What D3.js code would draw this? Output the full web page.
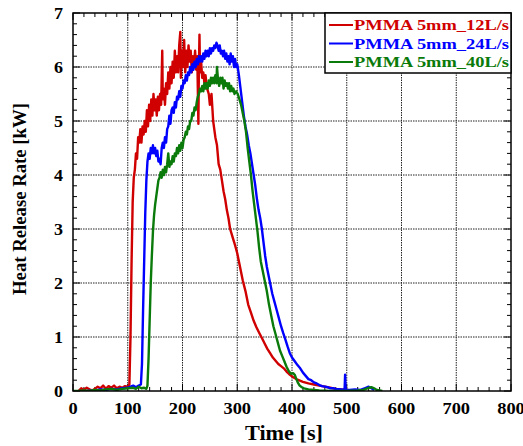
<html>
<head>
    <meta charset="utf-8">
    <title>Heat Release Rate</title>
    <style>
        body { margin: 0; background: #fff; }
        text { font-family: "Liberation Serif", "Times New Roman", serif; font-weight: bold; }
    </style>
</head>
<body>
    <script src="https://cdn.jsdelivr.net/npm/d3@7/dist/d3.min.js"></script>
    <script>
        var width = 523, height = 446;
        var margin = { left: 73, top: 13, right: 12, bottom: 55 };

        // series: [time (s), HRR (kW)]
        var names = ["PMMA 5mm_12L/s", "PMMA 5mm_24L/s", "PMMA 5mm_40L/s"];
        var colors = ["#d00000", "#0000ff", "#0a7a0a"];
        var xTicks = [0, 100, 200, 300, 400, 500, 600, 700, 800];
        var yTicks = [0, 1, 2, 3, 4, 5, 6, 7];

        var red12 = [[10,0.0],[15,0.05],[20,0.02],[25,0.06],[30,0.03],[35,0.01],[40,0.04],[45,0.08],[50,0.05],[55,0.1],[60,0.04],[65,0.09],[70,0.06],[75,0.1],[80,0.05],[85,0.08],[90,0.06],[95,0.09],[100,0.08],[103,0.12],[105,1.0],[107,2.4],[109,3.5],[111,3.95],[113,4.1],[115,4.4],[117,4.3],[119,4.7],[121,4.6],[123,4.85],[125,4.6],[127,4.9],[129,4.75],[131,5.0],[133,4.8],[135,5.2],[137,4.9],[139,5.3],[141,5.0],[143,5.4],[145,5.1],[147,5.5],[149,5.2],[151,5.4],[153,5.1],[155,5.45],[157,5.2],[159,5.5],[161,5.3],[163,6.3],[164,5.4],[166,5.6],[168,5.3],[170,5.7],[172,5.5],[174,5.9],[176,5.6],[178,6.0],[180,5.7],[182,6.1],[184,5.8],[186,6.3],[188,5.9],[190,6.2],[192,5.9],[194,6.4],[196,6.65],[197,5.8],[199,6.3],[201,6.0],[203,6.5],[205,5.9],[207,6.3],[209,6.0],[211,6.4],[213,6.1],[215,6.3],[217,5.9],[219,6.2],[221,6.0],[223,6.3],[225,5.95],[227,6.2],[229,4.95],[230,6.0],[231,6.6],[232,5.9],[234,6.1],[236,5.8],[238,5.9],[240,5.7],[242,5.85],[245,5.6],[248,5.5],[250,5.3],[253,5.5],[256,5.0],[260,4.7],[263,4.55],[266,4.2],[269,4.1],[272,3.9],[275,3.7],[278,3.55],[281,3.35],[284,3.2],[287,3.0],[290,2.9],[293,2.8],[296,2.7],[300,2.55],[305,2.3],[310,2.05],[315,1.85],[320,1.6],[325,1.45],[330,1.3],[335,1.18],[340,1.08],[345,0.98],[350,0.88],[355,0.78],[360,0.7],[365,0.62],[370,0.56],[375,0.5],[380,0.46],[385,0.42],[390,0.36],[395,0.31],[400,0.27],[410,0.21],[420,0.17],[430,0.14],[440,0.12],[450,0.1],[460,0.08],[470,0.06],[480,0.04],[490,0.03],[500,0.02],[510,0.01]];

        var blue24 = [[25,0.0],[40,0.01],[50,0.03],[60,0.02],[70,0.04],[80,0.03],[90,0.05],[100,0.06],[105,0.08],[110,0.1],[115,0.07],[120,0.1],[124,0.12],[126,0.5],[128,1.5],[130,2.4],[132,3.3],[134,3.9],[136,4.25],[138,4.4],[140,4.3],[142,4.5],[144,4.4],[146,4.55],[148,4.4],[150,4.5],[152,4.35],[154,4.45],[156,4.25],[158,4.3],[160,4.2],[162,4.5],[164,4.6],[166,4.5],[168,4.7],[170,4.6],[172,4.85],[174,4.9],[176,5.1],[178,4.95],[180,5.2],[182,5.25],[184,5.15],[186,5.35],[188,5.25],[190,5.45],[192,5.4],[194,5.55],[196,5.45],[198,5.65],[200,5.6],[202,5.75],[204,5.7],[206,5.85],[208,5.75],[210,5.9],[212,5.85],[214,6.0],[216,5.9],[218,6.05],[220,5.95],[222,6.1],[224,6.0],[226,6.15],[228,6.05],[230,6.2],[232,6.1],[234,6.2],[236,6.1],[238,6.25],[240,6.15],[242,6.3],[244,6.2],[246,6.3],[248,6.2],[250,6.35],[252,6.25],[254,6.35],[256,6.3],[258,6.4],[260,6.35],[262,6.45],[264,6.4],[266,6.3],[268,6.4],[270,6.25],[272,6.3],[274,6.2],[276,6.3],[278,6.15],[280,6.25],[282,6.1],[284,6.2],[286,6.05],[288,6.25],[290,6.1],[292,6.2],[294,6.0],[296,6.15],[298,6.0],[300,6.05],[303,5.85],[306,5.6],[309,5.35],[312,5.1],[315,4.9],[318,4.75],[321,4.55],[324,4.4],[327,4.2],[330,4.0],[333,3.8],[336,3.55],[339,3.35],[342,3.2],[345,3.0],[348,2.75],[351,2.5],[354,2.3],[357,2.15],[360,2.0],[364,1.8],[368,1.65],[372,1.5],[376,1.35],[380,1.2],[384,1.07],[388,0.95],[392,0.82],[396,0.7],[400,0.62],[405,0.55],[410,0.48],[415,0.42],[420,0.34],[425,0.28],[430,0.22],[435,0.2],[440,0.16],[445,0.14],[450,0.11],[455,0.09],[460,0.08],[465,0.07],[470,0.05],[475,0.05],[480,0.04],[490,0.03],[496,0.02],[497,0.3],[498,0.02],[505,0.02],[515,0.03],[525,0.02],[535,0.06],[540,0.08],[545,0.05],[550,0.02]];

        var green40 = [[0,0.0],[10,0.0],[20,0.01],[30,0.0],[40,0.02],[50,0.01],[60,0.03],[70,0.04],[80,0.02],[90,0.04],[100,0.05],[110,0.06],[115,0.04],[120,0.08],[125,0.05],[130,0.06],[134,0.04],[136,0.1],[138,0.6],[140,1.3],[142,2.0],[144,2.5],[146,2.95],[148,3.25],[150,3.45],[152,3.6],[154,3.75],[156,3.9],[158,3.95],[160,4.05],[162,3.95],[164,4.1],[166,4.0],[168,4.15],[170,4.05],[172,4.2],[174,4.4],[176,4.15],[178,4.25],[180,4.2],[182,4.35],[184,4.25],[186,4.4],[188,4.35],[190,4.5],[192,4.4],[194,4.55],[196,4.45],[198,4.6],[200,4.5],[202,4.65],[204,4.7],[206,4.8],[208,4.75],[210,4.9],[212,4.85],[214,5.0],[216,5.0],[218,5.15],[220,5.1],[222,5.25],[224,5.2],[226,5.35],[228,5.45],[230,5.5],[232,5.6],[234,5.55],[236,5.65],[238,5.55],[240,5.7],[242,5.6],[244,5.7],[246,5.6],[248,5.75],[250,5.65],[252,5.8],[254,5.7],[256,5.8],[258,5.7],[260,5.85],[262,5.7],[263,6.0],[265,5.75],[267,5.65],[269,5.8],[271,5.7],[273,5.8],[275,5.6],[277,5.75],[279,5.65],[281,5.7],[283,5.6],[285,5.7],[287,5.55],[289,5.65],[291,5.55],[293,5.6],[295,5.5],[298,5.55],[301,5.5],[304,5.4],[307,5.3],[310,5.15],[313,5.0],[316,4.8],[319,4.5],[322,4.25],[325,4.0],[328,3.7],[331,3.45],[334,3.2],[337,2.95],[340,2.65],[343,2.4],[346,2.25],[350,2.05],[354,1.85],[358,1.6],[362,1.4],[366,1.2],[370,1.05],[374,0.9],[378,0.75],[382,0.65],[386,0.55],[390,0.45],[394,0.37],[398,0.32],[402,0.33],[405,0.3],[408,0.22],[411,0.15],[414,0.1],[418,0.07],[422,0.05],[430,0.03],[440,0.02],[450,0.01],[470,0.0],[500,0.0],[520,0.01],[530,0.02],[540,0.06],[545,0.07],[550,0.05],[555,0.02],[565,0.0]];

        var series = [red12, blue24, green40];

        var svg = d3.select("body").append("svg")
            .attr("width", width)
            .attr("height", height);

        var x = d3.scaleLinear().domain([0, 800]).range([margin.left, width - margin.right]);
        var y = d3.scaleLinear().domain([0, 7]).range([height - margin.bottom, margin.top]);

        var x0 = x.range()[0], x1 = x.range()[1], y0 = y.range()[0], y1 = y.range()[1];

        // 网格
        var grid = svg.append("g").attr("stroke", "#222").attr("stroke-width", 1).attr("stroke-dasharray", "1.5,1");
        grid.selectAll(".gx").data(xTicks.slice(1, -1)).enter().append("line")
            .attr("x1", d => x(d)).attr("x2", d => x(d)).attr("y1", y0).attr("y2", y1);
        grid.selectAll(".gy").data(yTicks.slice(1, -1)).enter().append("line")
            .attr("x1", x0).attr("x2", x1).attr("y1", d => y(d)).attr("y2", d => y(d));

        // 刻度（内侧，四边）
        var xMinor = d3.range(0, 801, 20), yMinor = d3.range(0, 7.01, 0.2);
        var ticks = svg.append("g").attr("stroke", "#000").attr("stroke-width", 1);
        xMinor.forEach(function (t) {
            var len = t % 100 === 0 ? 7 : 4;
            ticks.append("line").attr("x1", x(t)).attr("x2", x(t)).attr("y1", y0).attr("y2", y0 - len);
            ticks.append("line").attr("x1", x(t)).attr("x2", x(t)).attr("y1", y1).attr("y2", y1 + len);
        });
        yMinor.forEach(function (v) {
            var len = Math.abs(v - Math.round(v)) < 1e-6 ? 7 : 4;
            ticks.append("line").attr("x1", x0).attr("x2", x0 + len).attr("y1", y(v)).attr("y2", y(v));
            ticks.append("line").attr("x1", x1).attr("x2", x1 - len).attr("y1", y(v)).attr("y2", y(v));
        });

        // 曲线
        var line = d3.line().x(d => x(d[0])).y(d => y(d[1]));
        svg.append("clipPath").attr("id", "clip").append("rect")
            .attr("x", x0).attr("y", y1).attr("width", x1 - x0).attr("height", y0 - y1);
        svg.append("g").attr("clip-path", "url(#clip)")
            .selectAll("path").data(series).enter().append("path")
            .attr("fill", "none")
            .attr("stroke", (d, i) => colors[i])
            .attr("stroke-width", 2.4)
            .attr("stroke-linejoin", "round")
            .attr("d", line);

        // 边框
        svg.append("rect").attr("x", x0).attr("y", y1).attr("width", x1 - x0).attr("height", y0 - y1)
            .attr("fill", "none").attr("stroke", "#000").attr("stroke-width", 1.5);

        // 刻度标签
        svg.append("g").selectAll("text").data(xTicks).enter().append("text")
            .attr("x", d => x(d)).attr("y", y0 + 23)
            .attr("text-anchor", "middle").attr("font-size", 16)
            .attr("textLength", d => String(d).length * 9.2).attr("lengthAdjust", "spacingAndGlyphs")
            .text(d => d);
        svg.append("g").selectAll("text").data(yTicks).enter().append("text")
            .attr("x", x0 - 10).attr("y", d => y(d) + 5.5)
            .attr("text-anchor", "end").attr("font-size", 16)
            .attr("textLength", 9).attr("lengthAdjust", "spacingAndGlyphs")
            .text(d => d);

        // 轴标题
        svg.append("text").attr("x", 284).attr("y", 440)
            .attr("text-anchor", "middle").attr("font-size", 21)
            .attr("textLength", 78).attr("lengthAdjust", "spacingAndGlyphs")
            .text("Time [s]");
        svg.append("text").attr("transform", "translate(26,199) rotate(-90)")
            .attr("text-anchor", "middle").attr("font-size", 19)
            .attr("textLength", 192).attr("lengthAdjust", "spacingAndGlyphs")
            .text("Heat Release Rate [kW]");

        // 图例
        var lg = svg.append("g");
        lg.append("rect").attr("x", 325).attr("y", y1).attr("width", x1 - 325).attr("height", 60)
            .attr("fill", "#fff").attr("stroke", "#000").attr("stroke-width", 1.5);
        names.forEach(function (n, i) {
            var yy = 25 + i * 18.5;
            lg.append("line").attr("x1", 329).attr("x2", 353).attr("y1", yy).attr("y2", yy)
                .attr("stroke", colors[i]).attr("stroke-width", 2);
            lg.append("text").attr("x", 354).attr("y", yy + 5).attr("font-size", 15)
                .attr("fill", colors[i])
                .attr("textLength", 155).attr("lengthAdjust", "spacingAndGlyphs")
                .text(n);
        });
    </script>
</body>
</html>
